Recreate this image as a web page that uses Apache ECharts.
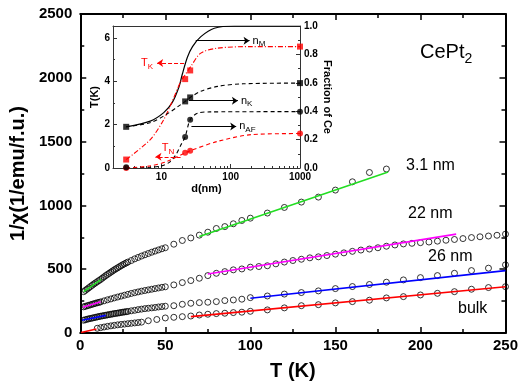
<!DOCTYPE html>
<html>
<head>
<meta charset="utf-8">
<script src="https://cdn.jsdelivr.net/npm/echarts@6/dist/echarts.min.js"></script>
<style>
html, body { margin: 0; padding: 0; background: #fff; }
#chart { width: 521px; height: 388px; }
</style>
</head>
<body>
<div id="chart"></div>
<script>
// main panel: 1/chi (1/emu/f.u.) against T (K)
const t31 = [2,3,4,5,6,7,8,9,10,11,12,13,14,15,16,17,18,19,20,21,22,23,24,25,26,27,28,30,32,34,36,38,40,42,44,46,48,50,55,60,65,70,75,80,85,90,95,100,110,120,130,140,150,160,170,180]
const chi31 = [324,334,344,354,364,374,384,393,402,411,420,430,440,450,459,468,477,486,495,503,511,519,527,535,542,549,556,568,581,592,603,613,623,633,642,651,660,668,696,725,745,767,790,819,834,856,882,900,940,984,1026,1065,1120,1185,1258,1285]

const t22 = [2,3,4,5,6,7,8,9,10,11,12,14,16,18,20,22,24,26,28,30,32,34,36,38,40,42,44,46,48,50,55,60,65,70,75,80,85,90,95,100,105,110,115,120,125,130,135,140,145,150,155,160,165,170,175,180,185,190,195,200,205,210,215,220,225,230,235,240,245,250]
const chi22 = [205,209,213,217,221,225,229,233,237,240,244,252,260,267,275,282,289,296,303,310,316,322,328,333,338,343,348,353,358,362,377,395,411,429,450,468,481,495,502,516,521,527,542,556,568,578,589,597,607,618,628,640,650,658,668,680,690,698,703,708,713,720,727,733,740,748,754,760,766,775]

const t26 = [2,3,4,5,6,7,8,9,10,11,12,13,14,15,16,17,18,19,20,21,22,23,24,25,26,27,28,30,32,34,36,38,40,42,44,46,48,50,55,60,65,70,75,80,85,90,95,100,110,120,130,140,150,160,170,180,190,200,210,220,230,240,250]
const chi26 = [100,104,108,111,114,117,120,123,126,129,132,134,137,139,142,144,147,149,152,154,156,158,161,163,165,167,169,174,178,183,187,191,194,197,200,204,207,210,214,225,233,238,241,246,254,259,265,277,290,305,317,330,348,364,380,398,416,434,450,468,489,508,534]

const tBulk = [10,12,14,16,18,20,22,24,26,28,30,32,34,36,40,45,50,55,60,65,70,75,80,85,90,95,100,110,120,130,140,150,160,170,180,190,200,210,220,230,240,250]
const chiBulk = [37,42,47,52,56,60,64,67,70,73,76,79,82,85,96,106,118,123,128,133,141,147,152,155,160,163,170,181,197,214,222,236,246,257,275,285,298,311,324,343,356,363]

// straight fit lines, end points only
const fitGreen = [[2, 324], [12.3, 420]]
const fitGreenHigh = [[70, 756], [181, 1262]]
const fitMagenta = [[1.5, 202], [12, 245]]
const fitMagentaHigh = [[75, 463], [221, 775]]
const fitBlue = [[1, 100], [15, 138]]
const fitBlueHigh = [[100, 272], [250, 489]]
const fitRed = [[0.5, 4], [9.5, 32]]
const fitRedHigh = [[65, 128], [250, 363]]

const sampleLabels = ['3.1 nm', '22 nm', '26 nm', 'bulk']

// inset: T(K) and fraction of Ce against d (nm)
const dPts = [3.1, 22, 26, 1000]
const tK = [0.39, 4.1, 4.5, 5.6]
const tN = [0.0, 0.7, 0.8, 1.59]
const nK = [0.29, 0.469, 0.497, 0.598]
const nAF = [0.005, 0.219, 0.34, 0.397]

const nMCurveD = [3.1, 6.9, 10.8, 14.3, 17.9, 20, 23.7, 28.1, 37.1, 58, 113, 1000]
const nMCurve = [0.29, 0.33, 0.39, 0.46, 0.57, 0.66, 0.78, 0.855, 0.925, 0.984, 1.0, 1.0]
const tKCurveD = [3.1, 6.9, 10.8, 14.3, 19, 22, 26.5, 37, 65, 200, 1000]
const tKCurve = [0.39, 1.31, 2.23, 3.07, 3.99, 4.3, 4.68, 5.3, 5.53, 5.6, 5.6]
const nKCurveD = [3.1, 7, 12, 17, 22, 26, 37, 65, 150, 1000]
const nKCurve = [0.29, 0.32, 0.38, 0.43, 0.469, 0.497, 0.54, 0.575, 0.593, 0.598]
const nAFCurveD = [3.1, 7, 10, 13, 16, 19, 22, 26, 33, 50, 1000]
const nAFCurve = [0, 0.005, 0.015, 0.04, 0.09, 0.16, 0.22, 0.34, 0.385, 0.395, 0.397]
const tNCurveD = [3.1, 6.9, 12, 22, 26, 65, 200, 1000]
const tNCurve = [0, 0.1, 0.3, 0.7, 0.8, 1.23, 1.54, 1.59]

const font = 'Liberation Sans, Arial, sans-serif'
const zip = (xs, ys) => xs.map((x, i) => [x, ys[i]])
const plain = (v) => String(v)

const chart = echarts.init(document.getElementById('chart'))

function mainAxis(extra) {
  return Object.assign({
    type: 'value',
    gridIndex: 0,
    splitLine: { show: false },
    axisLine: { onZero: false, lineStyle: { color: '#000', width: 2 } },
    axisTick: { inside: true, length: 6, lineStyle: { color: '#000', width: 1.5 } },
    minorTick: { show: true, splitNumber: 2, length: 4, lineStyle: { color: '#000', width: 1.5 } },
    axisLabel: { color: '#000', fontWeight: 'bold', fontSize: 15, fontFamily: font, formatter: plain },
  }, extra)
}

function insetAxis(extra) {
  return Object.assign({
    type: 'value',
    gridIndex: 1,
    splitLine: { show: false },
    axisLine: { onZero: false, lineStyle: { color: '#333', width: 1 } },
    axisTick: { inside: true, length: 4, lineStyle: { color: '#333' } },
    minorTick: { show: true, splitNumber: 2, length: 2, lineStyle: { color: '#333' } },
    axisLabel: { color: '#000', fontWeight: 'bold', fontSize: 10, fontFamily: font, margin: 3 },
    nameTextStyle: { color: '#000', fontWeight: 'bold', fontSize: 11, fontFamily: font },
  }, extra)
}

function circles(t, v) {
  return {
    type: 'scatter',
    xAxisIndex: 0,
    yAxisIndex: 0,
    data: zip(t, v),
    symbol: 'circle',
    symbolSize: 6,
    itemStyle: { color: 'rgba(255,255,255,0)', borderColor: '#000', borderWidth: 1 },
  }
}

function fit(points, color) {
  return {
    type: 'line',
    xAxisIndex: 0,
    yAxisIndex: 0,
    data: points,
    showSymbol: false,
    lineStyle: { color: color, width: 1.6 },
    z: 3,
  }
}

function curve(d, v, yIndex, color, dash, width) {
  return {
    type: 'line',
    xAxisIndex: 2,
    yAxisIndex: yIndex,
    data: zip(d, v),
    showSymbol: false,
    smooth: 0.3,
    lineStyle: { color: color, width: width || 1.1, type: dash },
  }
}

function markers(v, yIndex, symbol, color) {
  return {
    type: 'scatter',
    xAxisIndex: 2,
    yAxisIndex: yIndex,
    data: zip(dPts, v),
    symbol: symbol,
    symbolSize: 6,
    itemStyle: { color: color },
    z: 4,
  }
}

const subRich = (color) => ({
  n: { fontSize: 11, color: color, fontFamily: font },
  s: { fontSize: 8, color: color, fontFamily: font, padding: [7, 0, 0, 0] },
})

const nM = curve(nMCurveD, nMCurve, 3, '#000', 'solid', 1.2)
nM.markLine = {
  silent: true,
  symbol: ['none', 'arrow'],
  symbolSize: 6,
  lineStyle: { color: '#000', width: 1, type: 'solid' },
  label: { show: true, position: 'end', distance: 3, rich: subRich('#000') },
  data: [
    [{ coord: [31.3, 0.897] }, { coord: [187, 0.897], label: { formatter: '{n|n}{s|M}' } }],
    [{ coord: [25, 0.474] }, { coord: [127, 0.474], label: { formatter: '{n|n}{s|K}' } }],
    [{ coord: [27.1, 0.293] }, { coord: [120, 0.293], label: { formatter: '{n|n}{s|AF}' } }],
  ],
}

const tKLine = curve(tKCurveD, tKCurve, 2, '#ff0000', [5, 2, 1, 2])
tKLine.markLine = {
  silent: true,
  symbol: ['none', 'arrow'],
  symbolSize: 6,
  lineStyle: { color: '#ff0000', width: 1, type: [4, 2] },
  label: { show: true, position: 'end', distance: 4, rich: subRich('#ff0000') },
  data: [
    [{ coord: [21.2, 4.84] }, { coord: [8.67, 4.84], label: { formatter: '{n|T}{s|K}' } }],
    [{ coord: [18.9, 0.515] }, { coord: [8.2, 0.515], label: { position: 'insideMiddleTop', distance: 1, formatter: '{n|T}{s|N}' } }],
  ],
}

chart.setOption({
  animation: false,
  grid: [
    { left: 80, top: 14, right: 14, bottom: 55 },
    { left: 113, top: 26, right: 221, bottom: 220 },
  ],
  xAxis: [
    mainAxis({ min: 0, max: 250, interval: 50, axisLabel: { color: '#000', fontWeight: 'bold', fontSize: 15, fontFamily: font, margin: 5, formatter: plain },
      name: 'T (K)', nameLocation: 'middle', nameGap: 28,
      nameTextStyle: { color: '#000', fontWeight: 'bold', fontSize: 20, fontFamily: font } }),
    mainAxis({ min: 0, max: 250, interval: 50, position: 'top', axisLabel: { show: false } }),
    insetAxis({ type: 'log', logBase: 10, min: 2, max: 1000,
      minorTick: { show: true, splitNumber: 9, length: 2, lineStyle: { color: '#333' } },
      axisLabel: { color: '#000', fontWeight: 'bold', fontSize: 10, fontFamily: font, margin: 4, showMinLabel: false, formatter: plain },
      name: 'd(nm)', nameLocation: 'middle', nameGap: 15 }),
    insetAxis({ type: 'log', logBase: 10, min: 2, max: 1000, position: 'top',
      axisTick: { show: false }, minorTick: { show: false }, axisLabel: { show: false } }),
  ],
  yAxis: [
    mainAxis({ min: 0, max: 2500, interval: 500,
      name: '1/χ(1/emu/f.u.)', nameLocation: 'middle', nameGap: 48,
      nameTextStyle: { color: '#000', fontWeight: 'bold', fontSize: 20, fontFamily: font } }),
    mainAxis({ min: 0, max: 2500, interval: 500, position: 'right', axisLabel: { show: false } }),
    insetAxis({ min: 0, max: 6.55, interval: 2,
      axisLabel: { color: '#000', fontWeight: 'bold', fontSize: 10, fontFamily: font, margin: 3, showMaxLabel: false },
      name: 'T(K)', nameLocation: 'middle', nameGap: 11 }),
    insetAxis({ min: 0, max: 1, interval: 0.2, position: 'right',
      axisLabel: { color: '#000', fontWeight: 'bold', fontSize: 10, fontFamily: font, margin: 4, formatter: (v) => v.toFixed(1) },
      name: 'Fraction of Ce', nameLocation: 'middle', nameRotate: -90, nameGap: 22 }),
  ],
  graphic: [
    { type: 'text', x: 420, y: 52, style: { text: '{a|CePt}{b|2}', verticalAlign: 'middle',
      rich: { a: { fontSize: 20, fontFamily: font, color: '#000' }, b: { fontSize: 14, fontFamily: font, color: '#000', padding: [14, 0, 0, 0] } } } },
    { type: 'text', x: 406, y: 166, style: { text: sampleLabels[0], fontSize: 16, fontFamily: font, fill: '#000', verticalAlign: 'middle' } },
    { type: 'text', x: 408, y: 214, style: { text: sampleLabels[1], fontSize: 16, fontFamily: font, fill: '#000', verticalAlign: 'middle' } },
    { type: 'text', x: 428, y: 257, style: { text: sampleLabels[2], fontSize: 16, fontFamily: font, fill: '#000', verticalAlign: 'middle' } },
    { type: 'text', x: 458, y: 309, style: { text: sampleLabels[3], fontSize: 16, fontFamily: font, fill: '#000', verticalAlign: 'middle' } },
  ],
  series: [
    circles(t31, chi31),
    circles(t22, chi22),
    circles(t26, chi26),
    circles(tBulk, chiBulk),
    fit(fitGreen, '#22dd22'),
    fit(fitGreenHigh, '#22dd22'),
    fit(fitMagenta, '#ff00ff'),
    fit(fitMagentaHigh, '#ff00ff'),
    fit(fitBlue, '#0000ff'),
    fit(fitBlueHigh, '#0000ff'),
    fit(fitRed, '#ff0000'),
    fit(fitRedHigh, '#ff0000'),
    nM,
    tKLine,
    curve(nKCurveD, nKCurve, 3, '#000', [4, 3]),
    curve(nAFCurveD, nAFCurve, 3, '#000', [4, 3]),
    curve(tNCurveD, tNCurve, 2, '#ff0000', [4, 3]),
    markers(tK, 2, 'rect', '#ff0000'),
    markers(tN, 2, 'circle', '#ff0000'),
    markers(nK, 3, 'rect', '#000'),
    markers(nAF, 3, 'circle', '#000'),
  ],
})
</script>
</body>
</html>
